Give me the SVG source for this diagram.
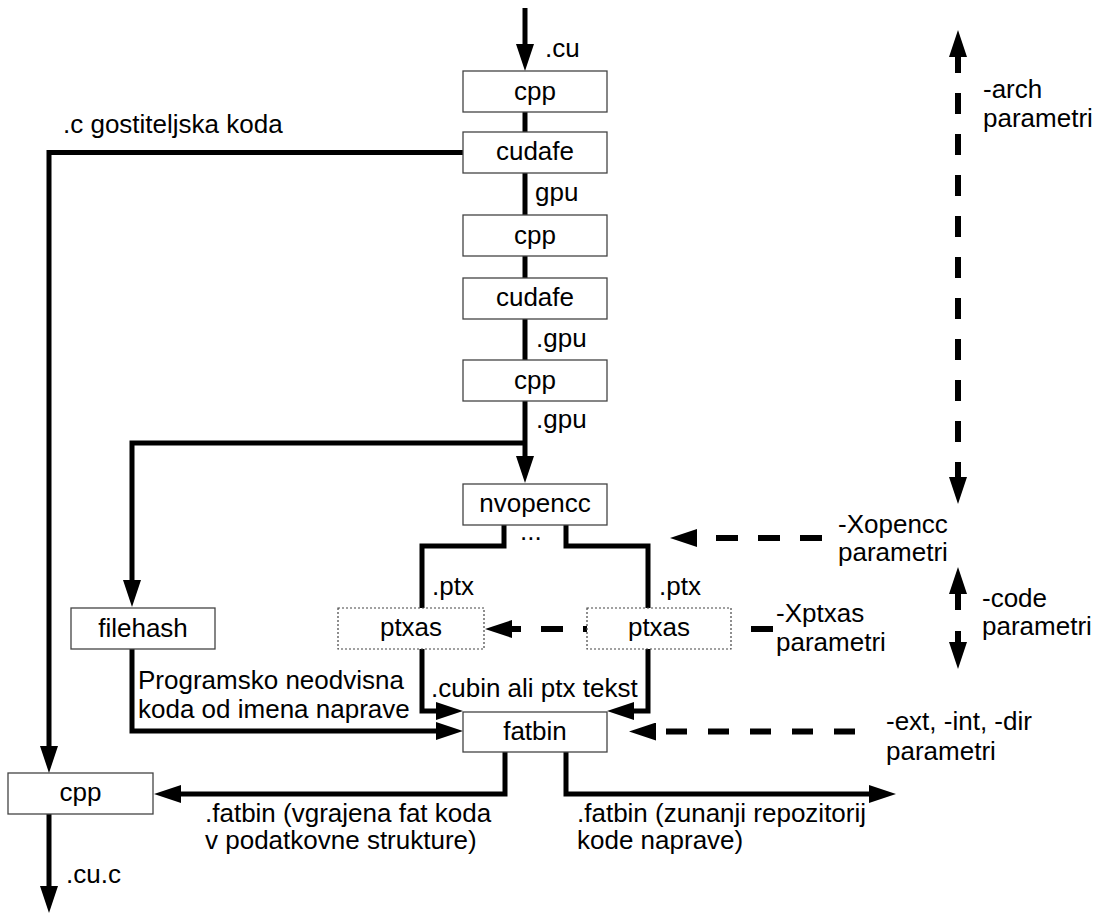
<svg xmlns="http://www.w3.org/2000/svg" width="1096" height="914" viewBox="0 0 1096 914">
  <style>
    text { font-family: "Liberation Sans", Arial, sans-serif; font-size: 26px; fill: #000; }
    .c { text-anchor: middle; }
    .box { fill: #fff; stroke: #444; stroke-width: 1.3; }
    .dot { fill: #fff; stroke: #444; stroke-width: 1.2; stroke-dasharray: 2 2; }
    .flow { fill: none; stroke: #000; stroke-width: 5; stroke-linejoin: miter; }
    .opt { fill: none; stroke: #000; stroke-width: 6; }
    .arr { marker-end: url(#ah); }
  </style>
  <defs>
    <marker id="ah" viewBox="0 0 27 18" refX="0" refY="9" markerWidth="27" markerHeight="18" markerUnits="userSpaceOnUse" orient="auto-start-reverse">
      <path d="M0,0 L27,9 L0,18 z" fill="#000"/>
    </marker>
  </defs>

  <g id="connectors">
    <!-- main pipeline -->
    <path class="flow arr" d="M525,8 V44"/>
    <path class="flow" d="M525,112 V132"/>
    <path class="flow" d="M525,173 V215"/>
    <path class="flow" d="M525,256 V278"/>
    <path class="flow" d="M525,319 V360"/>
    <path class="flow arr" d="M525,401 V456"/>
    <path class="flow arr" d="M525,443 H132 V580"/>
    <!-- host code path -->
    <path class="flow arr" d="M463,152.5 H49 V746"/>
    <path class="flow arr" d="M49,814 V886"/>
    <!-- nvopencc to ptxas -->
    <path class="flow" d="M504,525 V546 H422 V608"/>
    <path class="flow" d="M566,525 V546 H648 V608"/>
    <!-- into fatbin -->
    <path class="flow arr" d="M422,649 V711 H436"/>
    <path class="flow arr" d="M648,649 V711 H634"/>
    <path class="flow arr" d="M132,649 V731 H436"/>
    <!-- out of fatbin -->
    <path class="flow arr" d="M505,752 V794 H181"/>
    <path class="flow arr" d="M566,752 V794 H869"/>
    <!-- option arrows -->
    <path class="opt" d="M958,57 V477" stroke-dasharray="21 20" stroke-dashoffset="5" marker-start="url(#ah)" marker-end="url(#ah)"/>
    <path class="opt arr" d="M822,538 H697" stroke-dasharray="22 20"/>
    <path class="opt arr" d="M773,629 H512" stroke-dasharray="22 20"/>
    <path class="opt arr" d="M855,731.5 H656" stroke-dasharray="21 21"/>
    <path class="opt arr" d="M958,610 V594"/>
    <path class="opt arr" d="M958,631 V642"/>
  </g>

  <g id="n-cpp1"><rect class="box" x="463" y="71" width="144" height="41"/><text class="c" x="535" y="100">cpp</text></g>
  <g id="n-cudafe1"><rect class="box" x="463" y="132" width="144" height="41"/><text class="c" x="535" y="160">cudafe</text></g>
  <g id="n-cpp2"><rect class="box" x="463" y="215" width="144" height="41"/><text class="c" x="535" y="244">cpp</text></g>
  <g id="n-cudafe2"><rect class="box" x="463" y="278" width="144" height="41"/><text class="c" x="535" y="306">cudafe</text></g>
  <g id="n-cpp3"><rect class="box" x="463" y="360" width="144" height="41"/><text class="c" x="535" y="389">cpp</text></g>
  <g id="n-nvopencc"><rect class="box" x="463" y="484" width="144" height="41"/><text class="c" x="535" y="512">nvopencc</text></g>
  <g id="n-ptxas1"><rect class="dot" x="338" y="608" width="146" height="41"/><text class="c" x="411" y="636">ptxas</text></g>
  <g id="n-ptxas2"><rect class="dot" x="587" y="608" width="144" height="41"/><text class="c" x="659" y="636">ptxas</text></g>
  <g id="n-filehash"><rect class="box" x="71" y="608" width="144" height="41"/><text class="c" x="143" y="637">filehash</text></g>
  <g id="n-fatbin"><rect class="box" x="463" y="712" width="144" height="40"/><text class="c" x="535" y="740">fatbin</text></g>
  <g id="n-cpp-out"><rect class="box" x="8" y="773" width="145" height="41"/><text class="c" x="80.5" y="801">cpp</text></g>

  <g id="labels">
    <text x="545" y="57">.cu</text>
    <text x="63" y="133">.c gostiteljska koda</text>
    <text x="535" y="201">gpu</text>
    <text x="536" y="347">.gpu</text>
    <text x="536" y="428">.gpu</text>
    <text x="520" y="540">...</text>
    <text x="432" y="595">.ptx</text>
    <text x="659" y="595">.ptx</text>
    <text x="138" y="689">Programsko neodvisna</text>
    <text x="138" y="718">koda od imena naprave</text>
    <text x="431" y="697">.cubin ali ptx tekst</text>
    <text x="205" y="822">.fatbin (vgrajena fat koda</text>
    <text x="205" y="849">v podatkovne strukture)</text>
    <text x="577" y="822">.fatbin (zunanji repozitorij</text>
    <text x="577" y="849">kode naprave)</text>
    <text x="66" y="883">.cu.c</text>
    <text x="983" y="98">-arch</text>
    <text x="983" y="127">parametri</text>
    <text x="838" y="533">-Xopencc</text>
    <text x="838" y="561">parametri</text>
    <text x="982" y="607">-code</text>
    <text x="982" y="635">parametri</text>
    <text x="776" y="622">-Xptxas</text>
    <text x="776" y="651">parametri</text>
    <text x="886" y="730">-ext, -int, -dir</text>
    <text x="886" y="760">parametri</text>
  </g>
</svg>
